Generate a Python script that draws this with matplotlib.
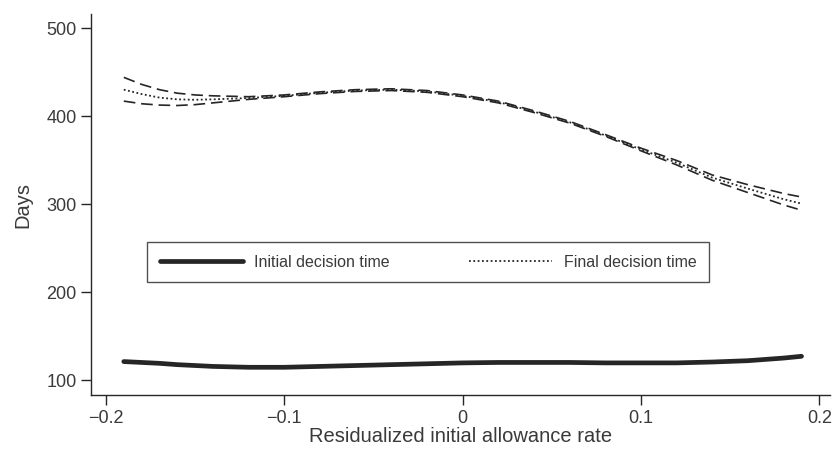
import matplotlib.pyplot as plt

plt.rcParams['font.family'] = ['Liberation Sans', 'DejaVu Sans']

# x grid (residualized initial allowance rate)
x = [-0.19, -0.18, -0.17, -0.16, -0.15, -0.14, -0.12, -0.10, -0.08, -0.06,
     -0.04, -0.02, 0.0, 0.02, 0.04, 0.06, 0.08, 0.10, 0.12, 0.14, 0.16,
     0.18, 0.19]

final_mid = [430, 425, 421, 419, 418.5, 419, 420.5, 423, 426.5, 429,
             430, 428, 423, 416, 405, 393, 378, 362, 347, 330, 317.5,
             305.5, 300.5]
final_hi = [444, 436, 430, 426, 424, 423, 422, 424, 427.5, 430,
            431, 429, 424, 417, 406, 394, 379, 363.5, 349.5, 333, 322,
            312, 308]
final_lo = [417, 414, 412.5, 412, 413, 415, 419, 422, 425.5, 428,
            429, 427, 422, 415, 404, 392, 377, 360.5, 344.5, 327, 313,
            299, 293]
initial = [121, 120, 119, 117.5, 116.5, 115.5, 114.5, 114.5, 115.5, 116.5,
           117.5, 118.5, 119.5, 120, 120, 120, 119.5, 119.5, 119.5, 120.5, 122,
           125, 127]

xticks = [-0.2, -0.1, 0, 0.1, 0.2]
xticklabels = ['\u22120.2', '\u22120.1', '0', '0.1', '0.2']
yticks = [100, 200, 300, 400, 500]

ink = '#262626'
txt = '#3a3a3a'

fig = plt.figure(figsize=(8.37, 4.5), dpi=100)
ax = fig.add_axes([0.1087, 0.1222, 0.883, 0.8467])

ax.plot(x, initial, color=ink, lw=3.4, solid_capstyle='round',
        label='Initial decision time')
ax.plot(x, final_mid, color=ink, lw=1.3, linestyle=(0, (1, 1.4)),
        label='Final decision time')
ax.plot(x, final_hi, color=ink, lw=1.2, linestyle=(0, (7, 3.5)))
ax.plot(x, final_lo, color=ink, lw=1.2, linestyle=(0, (7, 3.5)))

ax.set_xlim(-0.2084, 0.206)
ax.set_ylim(83, 516)
ax.set_xticks(xticks)
ax.set_xticklabels(xticklabels)
ax.set_yticks(yticks)

for s in ['top', 'right']:
    ax.spines[s].set_visible(False)
for s in ['left', 'bottom']:
    ax.spines[s].set_color(ink)
    ax.spines[s].set_linewidth(1.0)
ax.tick_params(colors=ink, labelcolor=txt, labelsize=13, length=7, width=1.0)

ax.set_xlabel('Residualized initial allowance rate', fontsize=14.5, color=txt, labelpad=0)
ax.set_ylabel('Days', fontsize=14.5, color=txt, labelpad=10)

leg = ax.legend(loc='center', bbox_to_anchor=(0.456, 0.349), ncol=2,
                fontsize=11.5, handlelength=5.2, handletextpad=0.7,
                columnspacing=5.0, frameon=True, fancybox=False,
                borderpad=0.8, labelcolor=txt)
leg.get_frame().set_edgecolor(ink)
leg.get_frame().set_linewidth(1.0)

fig.savefig('out.png', dpi=100)
